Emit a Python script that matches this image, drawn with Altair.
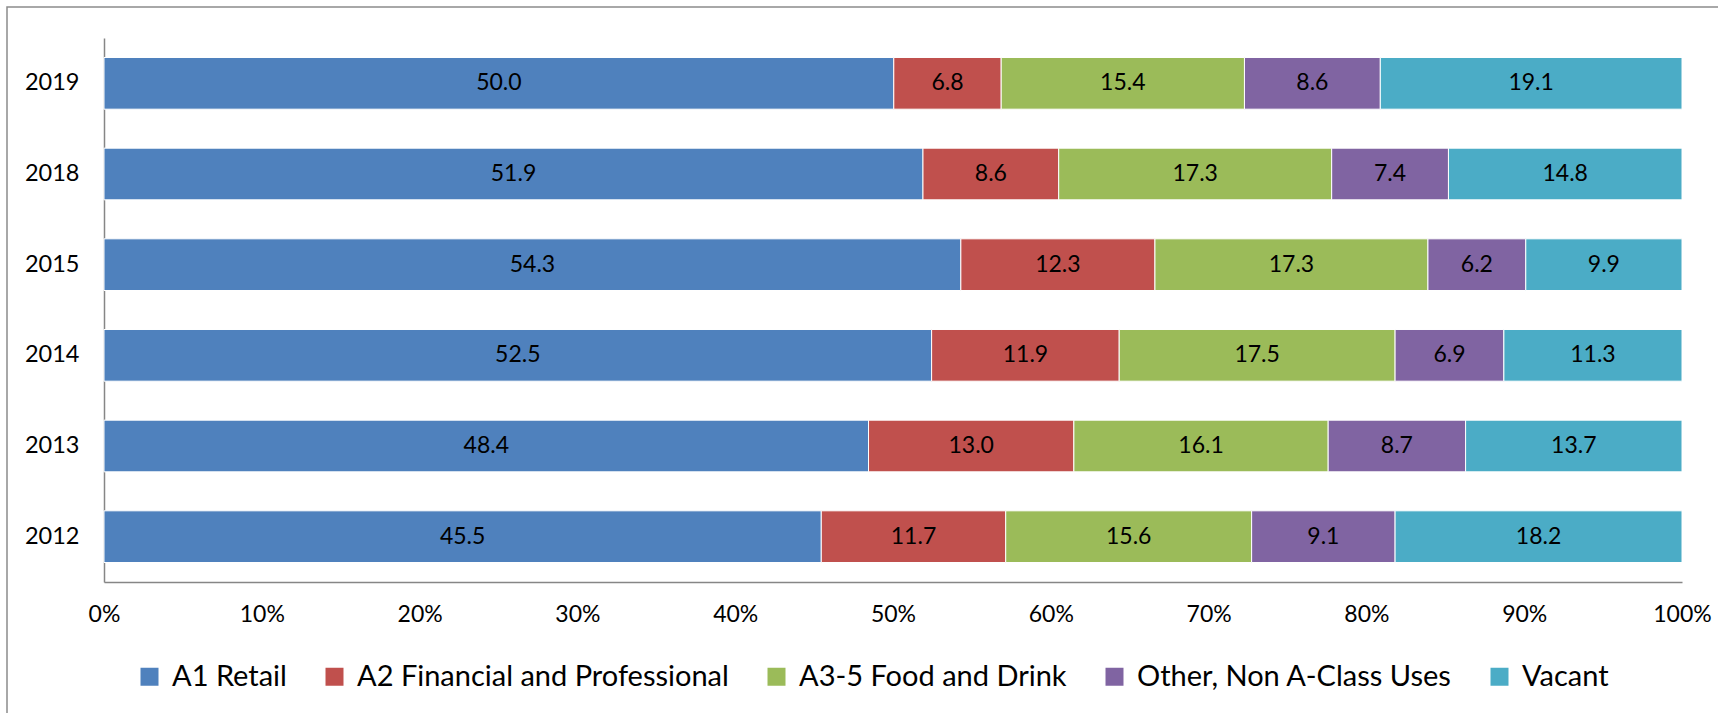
import altair as alt
import pandas as pd

# Survey years, top to bottom
years = ["2019", "2018", "2015", "2014", "2013", "2012"]

# Use classes in stacking order, with their colours
uses = [
    "A1 Retail",
    "A2 Financial and Professional",
    "A3-5 Food and Drink",
    "Other, Non A-Class Uses",
    "Vacant",
]
colors = ["#4F81BD", "#C0504D", "#9BBB59", "#8064A2", "#4BACC6"]

# Share of units (%) per year, same order as `years`
a1_retail = [50.0, 51.9, 54.3, 52.5, 48.4, 45.5]
a2_financial = [6.8, 8.6, 12.3, 11.9, 13.0, 11.7]
a3_food = [15.4, 17.3, 17.3, 17.5, 16.1, 15.6]
other_uses = [8.6, 7.4, 6.2, 6.9, 8.7, 9.1]
vacant = [19.1, 14.8, 9.9, 11.3, 13.7, 18.2]

tick_values = [0, 0.1, 0.2, 0.3, 0.4, 0.5, 0.6, 0.7, 0.8, 0.9, 1.0]

series = [a1_retail, a2_financial, a3_food, other_uses, vacant]
rows = []
for rank, (use, vals) in enumerate(zip(uses, series)):
    for year, v in zip(years, vals):
        rows.append({"year": year, "use": use, "rank": rank, "value": v})
df = pd.DataFrame(rows)

FONT = "Lato"
GREY = "#868686"

# 100% stacked layout: each year's segments normalised to its own total
base = (
    alt.Chart(df)
    .transform_joinaggregate(total="sum(value)", groupby=["year"])
    .transform_calculate(share="datum.value / datum.total")
    .transform_window(
        end="sum(share)",
        groupby=["year"],
        sort=[alt.SortField("rank")],
        frame=[None, 0],
    )
    .transform_calculate(
        start="datum.end - datum.share",
        mid="datum.end - datum.share / 2",
    )
)

y_scale = alt.Scale(paddingInner=0.43, paddingOuter=0.215)

bars = base.mark_bar(stroke="white", strokeWidth=1).encode(
    x=alt.X(
        "start:Q",
        scale=alt.Scale(domain=[0, 1], nice=False),
        axis=alt.Axis(
            values=tick_values,
            format=".0%",
            grid=False,
            ticks=False,
            title=None,
            labelFlush=False,
            labelFont=FONT,
            labelFontSize=23,
            labelColor="black",
            labelPadding=21,
            domainColor=GREY,
            domainWidth=1.5,
        ),
    ),
    x2="end:Q",
    y=alt.Y(
        "year:N",
        sort=years,
        scale=y_scale,
        title=None,
        axis=alt.Axis(
            ticks=False,
            labelFont=FONT,
            labelFontSize=23.5,
            labelColor="black",
            labelPadding=25,
            domainColor=GREY,
            domainWidth=1.5,
        ),
    ),
    color=alt.Color(
        "use:N",
        sort=uses,
        scale=alt.Scale(domain=uses, range=colors),
        legend=alt.Legend(
            title=None,
            orient="none",
            direction="horizontal",
            legendX=31,
            legendY=624,
            padding=0,
            symbolType="square",
            symbolSize=324,
            symbolStrokeWidth=0,
            labelFont=FONT,
            labelFontSize=29,
            labelColor="black",
            labelOffset=8,
            columnPadding=33,
            labelLimit=600,
        ),
    ),
)

labels = base.mark_text(font=FONT, fontSize=23, color="black").encode(
    x="mid:Q",
    y=alt.Y("year:N", sort=years, scale=y_scale),
    text=alt.Text("value:Q", format=".1f"),
)

# Outer chart-area border
frame = (
    alt.Chart(pd.DataFrame({"k": [0]}))
    .mark_rect(fill=None, stroke="#8c8c8c", strokeWidth=1.5)
    .encode(
        x=alt.value(-97),
        x2=alt.value(1720),
        y=alt.value(-31),
        y2=alt.value(720),
    )
)

chart = (
    alt.layer(frame, bars, labels)
    .properties(
        width=1578,
        height=544,
        padding={"left": 104, "top": 38, "right": 36, "bottom": 131},
        autosize=alt.AutoSizeParams(type="none"),
        background="white",
    )
    .configure_view(stroke=None)
)

chart.save("out.html", embed_options={"renderer": "svg", "actions": False})
